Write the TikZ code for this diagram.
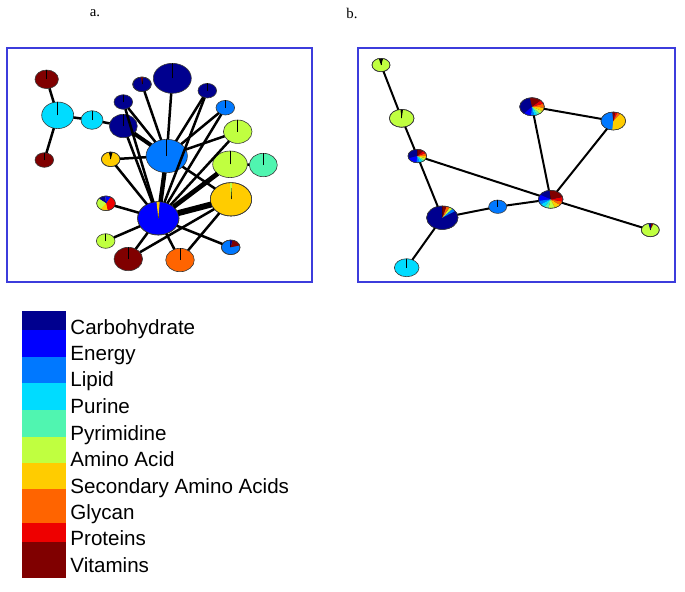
\documentclass[tikz,border=0pt]{standalone}
\usepackage{fontspec}
\setmainfont{Liberation Serif}
\setsansfont{Liberation Sans}
\usepackage{xcolor}
\definecolor{carb}{HTML}{00008F}
\definecolor{energy}{HTML}{0000FF}
\definecolor{lipid}{HTML}{0078FF}
\definecolor{purine}{HTML}{00DCFF}
\definecolor{pyrim}{HTML}{50F5B0}
\definecolor{amino}{HTML}{C0FF40}
\definecolor{secam}{HTML}{FFCC00}
\definecolor{glycan}{HTML}{FF6400}
\definecolor{protein}{HTML}{EE0000}
\definecolor{vitamin}{HTML}{800000}
\definecolor{panelc}{HTML}{3C3CDC}
\definecolor{rimc}{HTML}{3A3A3A}
\usepackage{tikz}
\usetikzlibrary{shapes.geometric}
\tikzset{
  blob/.style 2 args={ellipse, draw=rimc, line width=0.3pt, inner sep=0pt, outer sep=0pt,
    minimum width=#1pt, minimum height=#2pt},
  tick/.style={line width=0.3pt, color=black},
  link/.style={line width=1.25pt, color=black},
  panel/.style={draw=panelc, line width=0.75pt},
  key/.style={font=\sffamily\fontsize{10.3}{12}\selectfont, anchor=base west, inner sep=0pt},
  tag/.style={font=\fontsize{7.4}{8}\selectfont, inner sep=0pt},
}
% slices of an elliptic pie laid over a named node
\newcommand{\piechart}[4]{%
  \begin{scope}[shift={(#1.center)}, yscale=-1]
    \foreach \a/\b/\c in {#4}
      \fill[\c] (0,0) -- (\a:#2 and #3) arc[start angle=\a, end angle=\b, x radius=#2, y radius=#3] -- cycle;
    \draw[draw=rimc, line width=0.3pt] (0,0) ellipse[x radius=#2, y radius=#3];
  \end{scope}}

\begin{document}
\begin{tikzpicture}[x=0.5pt, y=-0.5pt]
  \useasboundingbox (0,0) rectangle (685,591);
  % panel titles and frames
  \node[tag] (ta) at (95,13) {a.};
  \node[tag] (tb) at (352,13) {b.};
  \draw[panel] (7,48) rectangle (312,282);
  \draw[panel] (358,48) rectangle (675,282);
  % panel a: metabolite nodes
  \foreach \n/\x/\y/\rx/\ry/\c in {
      a1/46.7/79.3/11.7/9.3/vitamin, a2/57.7/115.3/16/13.3/purine, a3/44.3/160/9.3/7.3/vitamin,
      a4/92/120/11/9.3/purine, a5/123.3/126/14/11.7/carb, a6/123.3/102/9.3/7.3/carb,
      a7/142/84.3/9.3/7.3/carb, a8/172.3/78.3/19/15/carb, a9/207.3/90.7/9.3/7.3/carb,
      a10/225.3/107.7/9.3/7.3/lipid, a11/237.7/131.7/14.3/11.7/amino, a12/166.7/156/20.7/16.7/lipid,
      a13/110.7/159.3/9.3/7.3/secam, a14/230/164.3/17.3/13.3/amino, a15/263.3/165/14/11.7/pyrim,
      a16/231/199.3/20.7/16.7/secam, a17/106/203.3/9.3/7.3/amino, a18/158.3/218.3/20.7/16.7/energy,
      a19/105.7/241/9.3/7.3/amino, a20/128.3/259/14.3/11.7/vitamin, a21/180/260/14.3/11.7/glycan,
      a22/230.7/247.3/9.3/7.3/lipid} {
    \node[blob={\rx}{\ry}, fill=\c] (\n) at (\x,\y) {};
    \draw[tick] (\n.center) -- (\n.north);
  }
  \piechart{a7}{9.3}{7.3}{84/96/vitamin}
  \piechart{a13}{9.3}{7.3}{78/102/black}
  \piechart{a16}{20.7}{16.7}{87/93/amino}
  \piechart{a17}{9.3}{7.3}{-80/60/protein, 60/95/energy, 95/140/carb, 140/235/amino, 235/280/secam}
  \piechart{a18}{20.7}{16.7}{86/95/secam}
  \piechart{a22}{9.3}{7.3}{15/80/vitamin, 80/95/carb}
  % panel a: links
  \foreach \u/\v in {a1/a2, a2/a3, a2/a4, a4/a5, a5/a18, a6/a12, a6/a18, a7/a12, a8/a12,
      a9/a12, a9/a18, a10/a12, a10/a18, a11/a12, a11/a18, a13/a12, a13/a18, a12/a16,
      a14/a15, a17/a18, a19/a18, a20/a18, a20/a16, a21/a18, a21/a16, a22/a18}
    \draw[link] (\u) -- (\v);
  \draw[link, line width=2pt] (a5) -- (a12);
  \draw[link, line width=2.2pt] (a12) -- (a18);
  \draw[link, line width=2.4pt] (a14) -- (a18);
  \draw[link, line width=3pt] (a16) -- (a18);
  % panel b: metabolite nodes
  \foreach \n/\x/\y/\rx/\ry/\c in {
      b1/381/65/9/6.7/amino, b2/401.7/118.3/12.3/9/amino, b3/417.3/156/9.3/6.7/carb,
      b4/442.3/217.7/15.7/11.7/carb, b5/406.7/267.7/12.3/9/purine, b6/497.7/206.7/9/6.7/lipid,
      b7/550.7/199.3/12.3/9/carb, b8/532/106.7/12.3/9/carb, b9/613.3/121/12.3/9/lipid,
      b10/650.3/230/9/6.7/amino} {
    \node[blob={\rx}{\ry}, fill=\c] (\n) at (\x,\y) {};
    \draw[tick] (\n.center) -- (\n.north);
  }
  \piechart{b1}{9}{6.7}{76/104/black}
  \piechart{b2}{12.3}{9}{84/96/black}
  \piechart{b3}{9.3}{6.7}{90/200/carb, 200/265/energy, -95/-75/lipid, -75/-55/purine, -55/-40/pyrim,
      -40/-20/amino, -20/0/secam, 0/25/glycan, 25/50/protein, 50/90/vitamin}
  \piechart{b4}{15.7}{11.7}{95/395/carb, 35/50/lipid, 50/62/amino, 62/75/glycan, 75/90/vitamin}
  \piechart{b7}{12.3}{9}{95/150/carb, 150/190/energy, 190/215/lipid, 215/240/purine, 240/260/pyrim,
      260/290/amino, 290/320/secam, 320/345/glycan, 345/375/protein, 375/455/vitamin}
  \piechart{b8}{12.3}{9}{100/230/carb, 230/265/energy, -95/-80/lipid, -80/-65/purine, -65/-50/pyrim,
      -50/-30/amino, -30/-5/secam, -5/20/glycan, 20/45/protein, 45/100/vitamin}
  \piechart{b9}{12.3}{9}{95/265/lipid, -95/55/secam, 55/70/glycan, 70/80/protein, 80/95/vitamin}
  \piechart{b10}{9}{6.7}{70/85/vitamin, 85/102/carb}
  % panel b: links
  \foreach \u/\v in {b1/b2, b2/b3, b3/b4, b4/b5, b3/b7, b4/b6, b6/b7, b7/b8, b7/b9, b8/b9, b7/b10}
    \draw[link, line width=1pt] (\u) -- (\v);
  % legend
  \foreach \t/\b/\c in {311/330/carb, 330/356.7/energy, 356.7/383.3/lipid, 383.3/410/purine,
      410/436.7/pyrim, 436.7/462.7/amino, 462.7/489.3/secam, 489.3/522.7/glycan,
      522.7/541.7/protein, 541.7/578.3/vitamin}
    \fill[\c] (22,\t) rectangle (66,\b);
  \node[key] (kcarb) at (70,334.2) {Carbohydrate};
  \node[key] (kenergy) at (70,360.8) {Energy};
  \node[key] (klipid) at (70,386.8) {Lipid};
  \node[key] (kpurine) at (70,413.3) {Purine};
  \node[key] (kpyrim) at (70,440.2) {Pyrimidine};
  \node[key] (kamino) at (70,466.8) {Amino Acid};
  \node[key] (ksecam) at (70,493) {Secondary Amino Acids};
  \node[key] (kglycan) at (70,519.8) {Glycan};
  \node[key] (kprotein) at (70,545.8) {Proteins};
  \node[key] (kvitamin) at (70,572.5) {Vitamins};
\end{tikzpicture}
\end{document}
